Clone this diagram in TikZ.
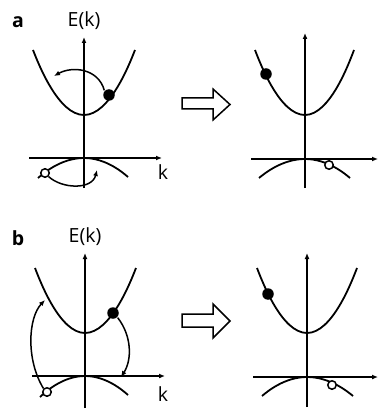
\documentclass[tikz,border=0pt]{standalone}
\usepackage{fontspec}
\setmainfont{Open Sans}
\usetikzlibrary{arrows.meta}
\begin{document}
\begin{tikzpicture}[x=1pt,y=-1pt,
  line width=1.7pt,
  axis/.style={line width=1.7pt,-{Latex[length=6pt,width=5pt]}},
  band/.style={line width=1.8pt},
  hop/.style={line width=1.5pt,-{Latex[length=6pt,width=5pt]}},
  electron/.style={circle,fill=black,inner sep=0pt,minimum size=11.5pt},
  hole/.style={circle,draw=black,fill=white,line width=1.5pt,inner sep=0pt,minimum size=8.5pt},
  lbl/.style={font=\fontsize{19.5}{22}\selectfont},
  panel/.style={font=\fontsize{19.5}{22}\selectfont\bfseries},
  bigarrow/.style={draw=black,line width=1.5pt,fill=white}]
\useasboundingbox (0,0) rectangle (378,414);

% ---------- panel a, left ----------
\node[panel] (pa) at (18,22) {a};
\node[lbl] (Ea) at (84,21) {E(k)};
\coordinate (a1b) at (84,188);
\coordinate (a1t) at (84,37);
\coordinate (a1l) at (29,158);
\coordinate (a1r) at (162,158);
\draw[axis] (a1b) -- (a1t);
\draw[axis] (a1l) -- (a1r);
\node[lbl] (ka) at (163,172) {k};
\draw[band] (33,50) parabola bend (84,115) (135,50);
\draw[band] (38,178) parabola bend (84,158) (128,177);
\node[electron] (ea1) at (109,95) {};
\node[hole] (ha1) at (45,173) {};
\coordinate (ta1) at (54,76);
\coordinate (ta2) at (97,170);
\draw[hop] (ea1.north west) .. controls (98,68) and (72,66) .. (ta1);
\draw[hop] (ha1.south east) .. controls (62,189) and (92,190) .. (ta2);

% hollow arrow a
\draw[bigarrow] (182,98) -- (213,98) -- (213,89) -- (230,104.5) -- (213,120) -- (213,109) -- (182,109) -- cycle;

% ---------- panel a, right ----------
\coordinate (a2b) at (305,188);
\coordinate (a2t) at (305,33);
\coordinate (a2l) at (251,159);
\coordinate (a2r) at (378,159);
\draw[axis] (a2b) -- (a2t);
\draw[axis] (a2l) -- (a2r);
\draw[band] (255,50) parabola bend (305,115) (354,50);
\draw[band] (259,178) parabola bend (305,159) (350,178);
\node[electron] (ea2) at (266,74) {};
\node[hole] (ha2) at (329,165) {};

% ---------- panel b, left ----------
\node[panel] (pb) at (18,238) {b};
\node[lbl] (Eb) at (85,237) {E(k)};
\coordinate (b1b) at (85,408);
\coordinate (b1t) at (85,253);
\coordinate (b1l) at (32,376);
\coordinate (b1r) at (165,376);
\draw[axis] (b1b) -- (b1t);
\draw[axis] (b1l) -- (b1r);
\node[lbl] (kb) at (163,394) {k};
\draw[band] (35,268) parabola bend (85,333) (136,268);
\draw[band] (40,397) parabola bend (85,376) (128,395);
\node[electron] (eb1) at (113,313) {};
\node[hole] (hb1) at (47,392) {};
\coordinate (tb1) at (45,300);
\coordinate (tb2) at (121,377);
\draw[hop] (hb1.north west) .. controls (26,360) and (28,318) .. (tb1);
\draw[hop] (eb1.south east) .. controls (132,336) and (132,360) .. (tb2);

% hollow arrow b
\draw[bigarrow] (182,314) -- (213,314) -- (213,304) -- (230,321) -- (213,338) -- (213,327) -- (182,327) -- cycle;

% ---------- panel b, right ----------
\coordinate (b2b) at (307,407);
\coordinate (b2t) at (307,253);
\coordinate (b2l) at (253,377);
\coordinate (b2r) at (378,377);
\draw[axis] (b2b) -- (b2t);
\draw[axis] (b2l) -- (b2r);
\draw[band] (257,268) parabola bend (307,333) (357,268);
\draw[band] (262,396) parabola bend (307,377) (353,396);
\node[electron] (eb2) at (268,294) {};
\node[hole] (hb2) at (332,385) {};
\end{tikzpicture}
\end{document}
